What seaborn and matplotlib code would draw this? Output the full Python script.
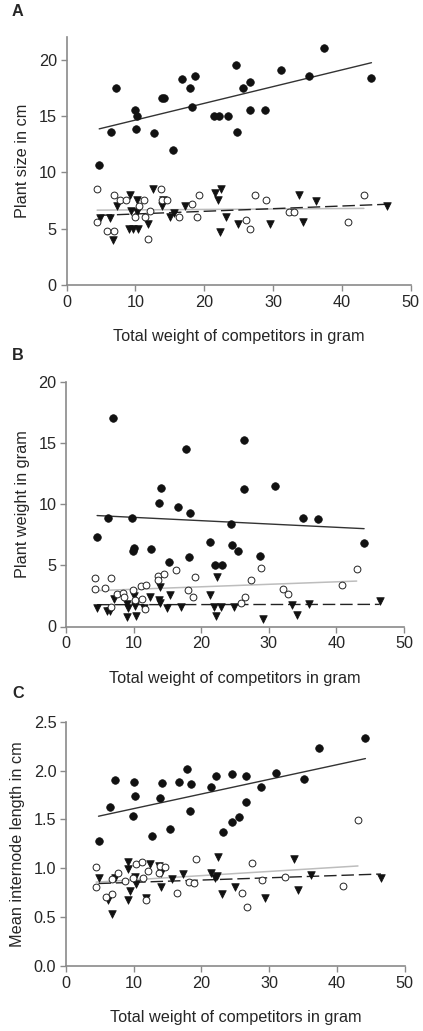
import numpy as np
import pandas as pd
import matplotlib
matplotlib.use("Agg")
import matplotlib.pyplot as plt
import seaborn as sns

# ---------------- data ----------------
# Panel A: plant size (cm)
xf_A = [4.75, 6.5, 7.2, 9.9, 10.3, 10.1, 12.7, 13.9, 14.2, 15.4, 16.8, 17.9, 18.6, 18.3,
        21.4, 22.1, 23.4, 24.6, 24.7, 25.6, 26.6, 26.6, 28.8, 31.1, 35.2, 37.4, 44.3]
yf_A = [10.65, 13.55, 17.5, 15.5, 15.0, 13.8, 13.5, 16.55, 16.55, 12.0, 18.25, 17.45, 18.55, 15.8,
        15.0, 15.0, 15.0, 19.55, 13.6, 17.5, 18.0, 15.5, 15.5, 19.05, 18.55, 21.05, 18.35]
xo_A = [4.45, 4.45, 6.85, 7.75, 8.6, 5.95, 6.85, 10.5, 10.0, 11.3, 11.4, 12.15, 11.9, 13.8,
        13.9, 14.6, 16.4, 18.3, 19.2, 19.0, 26.1, 26.7, 27.4, 29.0, 32.3, 33.0, 40.9, 43.2]
yo_A = [8.5, 5.55, 8.0, 7.5, 7.5, 4.8, 4.8, 7.0, 6.0, 7.5, 6.0, 6.55, 4.1, 8.5,
        7.5, 7.5, 6.0, 7.2, 8.0, 6.0, 5.8, 5.0, 8.0, 7.55, 6.5, 6.5, 5.55, 8.0]
xt_A = [4.8, 6.3, 6.8, 7.3, 9.2, 9.3, 9.15, 9.6, 10.4, 10.2, 10.3, 11.8, 12.5, 14.05, 13.85,
        15.1, 15.6, 17.2, 21.5, 22.4, 22.05, 23.1, 22.3, 24.95, 29.5, 33.8, 34.35, 36.3, 46.6]
yt_A = [5.95, 5.95, 3.95, 7.0, 7.95, 6.6, 4.95, 4.95, 4.95, 7.5, 6.45, 5.45, 8.5, 7.55, 7.05,
        6.0, 6.4, 7.0, 8.2, 8.5, 7.5, 6.0, 4.7, 5.45, 5.45, 7.95, 5.55, 7.45, 7.0]

# Panel B: plant weight (g)
xf_B = [4.6, 6.25, 7.0, 9.7, 10.1, 9.9, 12.5, 13.75, 14.05, 15.25, 16.6, 17.7, 18.4, 18.15,
        21.25, 22.0, 23.1, 24.45, 24.5, 25.4, 26.4, 26.4, 28.7, 30.9, 35.1, 37.3, 44.1]
yf_B = [7.3, 8.9, 17.0, 8.9, 6.45, 6.15, 6.3, 10.1, 11.35, 5.25, 9.8, 14.5, 9.3, 5.65,
        6.9, 5.05, 5.05, 8.4, 6.65, 6.15, 15.2, 11.25, 5.8, 11.45, 8.9, 8.8, 6.8]
xo_B = [4.3, 4.3, 5.8, 6.65, 7.55, 8.4, 8.6, 6.65, 9.85, 10.25, 11.1, 11.9, 11.25, 11.7, 13.65,
        13.55, 14.5, 16.3, 18.05, 18.8, 19.1, 25.9, 26.5, 27.4, 28.85, 32.15, 32.85, 40.8, 43.0]
yo_B = [4.0, 3.1, 3.15, 4.0, 2.65, 2.75, 2.4, 1.6, 3.0, 2.15, 3.3, 3.4, 2.25, 1.45, 4.15,
        3.8, 4.25, 4.65, 3.0, 2.45, 4.05, 1.95, 2.4, 3.8, 4.75, 3.1, 2.65, 3.35, 4.7]
xt_B = [4.6, 6.05, 6.55, 7.15, 9.0, 9.2, 9.05, 10.0, 10.2, 10.3, 11.6, 12.4, 13.95, 13.8, 13.9,
        14.95, 15.4, 17.0, 21.3, 22.4, 21.95, 22.9, 22.15, 24.8, 29.2, 33.5, 34.2, 36.0, 46.4]
yt_B = [1.55, 1.25, 1.25, 2.25, 1.8, 1.55, 0.75, 2.5, 1.7, 0.85, 1.5, 2.4, 3.2, 2.15, 1.95,
        1.5, 2.6, 1.6, 2.6, 4.05, 1.6, 1.6, 0.85, 1.6, 0.65, 1.75, 0.9, 1.85, 2.1]

# Panel C: mean internode length (cm)
xf_C = [4.8, 6.45, 7.2, 9.85, 10.1, 10.25, 12.65, 13.9, 14.2, 15.35, 16.75, 17.85, 18.5, 18.25,
        21.4, 22.1, 23.2, 24.55, 24.55, 25.5, 26.55, 26.6, 28.8, 31.0, 35.2, 37.4, 44.2]
yf_C = [1.275, 1.63, 1.90, 1.54, 1.885, 1.735, 1.33, 1.715, 1.87, 1.40, 1.88, 2.015, 1.86, 1.585,
        1.83, 1.94, 1.375, 1.965, 1.47, 1.52, 1.945, 1.68, 1.835, 1.98, 1.91, 2.23, 2.335]
xo_C = [4.45, 4.45, 5.95, 6.85, 6.8, 7.7, 8.7, 9.85, 10.4, 11.2, 11.4, 12.1, 11.8, 13.7,
        13.95, 14.6, 16.4, 18.2, 18.9, 19.25, 26.05, 26.65, 27.5, 28.95, 32.3, 40.9, 43.1]
yo_C = [1.015, 0.81, 0.71, 0.735, 0.895, 0.95, 0.87, 0.905, 1.04, 1.065, 0.905, 0.975, 0.68, 0.95,
        1.02, 1.01, 0.745, 0.86, 0.85, 1.10, 0.745, 0.605, 1.05, 0.88, 0.91, 0.82, 1.495]
xt_C = [4.8, 6.15, 6.8, 7.25, 9.2, 9.2, 9.15, 9.5, 10.25, 10.4, 11.75, 12.45, 13.75, 14.05,
        14.0, 15.6, 17.2, 21.4, 22.25, 22.0, 22.4, 23.0, 24.95, 29.35, 33.7, 34.3, 36.15, 46.5]
yt_C = [0.90, 0.68, 0.53, 0.905, 1.065, 0.99, 0.68, 0.77, 0.91, 0.84, 0.70, 1.045, 1.02, 0.95,
        0.81, 0.895, 0.94, 0.95, 0.925, 0.90, 1.12, 0.735, 0.81, 0.70, 1.10, 0.78, 0.93, 0.90]

panel_letters = ["A", "B", "C"]
y_labels = ["Plant size in cm", "Plant weight in gram", "Mean internode length in cm"]
x_label = "Total weight of competitors in gram"
x_ticks = [0, 10, 20, 30, 40, 50]
y_ticks_A = [0, 5, 10, 15, 20]
y_ticks_B = [0, 5, 10, 15, 20]
y_ticks_C = [0.0, 0.5, 1.0, 1.5, 2.0, 2.5]
y_tick_labels_C = ["0.0", "0.5", "1.0", "1.5", "2.0", "2.5"]

# ---------------- style ----------------
sns.set_style("ticks")
plt.rcParams['font.family'] = ['Liberation Sans', 'DejaVu Sans']

W, H = 423, 1031
fig = plt.figure(figsize=(W / 100, H / 100), dpi=100)

def px_axes(left, right, top, bottom):
    return fig.add_axes([left / W, 1 - bottom / H, (right - left) / W, (bottom - top) / H])

axA = px_axes(66.5, 410.7, 37.0, 285.0)
axB = px_axes(66.0, 404.0, 381.7, 626.5)
axC = px_axes(66.0, 404.7, 721.7, 966.0)

panels = [
    (axA, xf_A, yf_A, xo_A, yo_A, xt_A, yt_A, (0, 22), y_ticks_A, None),
    (axB, xf_B, yf_B, xo_B, yo_B, xt_B, yt_B, (0, 20), y_ticks_B, None),
    (axC, xf_C, yf_C, xo_C, yo_C, xt_C, yt_C, (0, 2.5), y_ticks_C, y_tick_labels_C),
]

FS = 11.7
spine_col = "#8a8a8a"

for i, (ax, xf, yf, xo, yo, xt, yt, ylim, yticks, ytl) in enumerate(panels):
    df_f = pd.DataFrame({"x": xf, "y": yf})
    df_o = pd.DataFrame({"x": xo, "y": yo})
    df_t = pd.DataFrame({"x": xt, "y": yt})

    # regression lines
    sns.regplot(data=df_o, x="x", y="y", ax=ax, scatter=False, ci=None, truncate=True,
                line_kws=dict(color="#bdbdbd", lw=1.1, zorder=2))
    sns.regplot(data=df_t, x="x", y="y", ax=ax, scatter=False, ci=None, truncate=True,
                line_kws=dict(color="#222222", lw=1.0, dashes=(9, 3.5), zorder=2))
    sns.regplot(data=df_f, x="x", y="y", ax=ax, scatter=False, ci=None, truncate=True,
                line_kws=dict(color="#333333", lw=1.0, zorder=2))

    # points
    sns.scatterplot(data=df_t, x="x", y="y", ax=ax, marker="v", s=30, color="#111111",
                    edgecolor="#111111", linewidth=0.5, zorder=3)
    sns.scatterplot(data=df_o, x="x", y="y", ax=ax, marker="o", s=24, facecolor="white",
                    edgecolor="#222222", linewidth=0.7, zorder=4)
    sns.scatterplot(data=df_f, x="x", y="y", ax=ax, marker="o", s=30, color="#111111",
                    edgecolor="#111111", linewidth=0.5, zorder=5)

    ax.set_xlim(0, 50)
    ax.set_ylim(*ylim)
    ax.set_xticks(x_ticks)
    ax.set_yticks(yticks)
    if ytl is not None:
        ax.set_yticklabels(ytl)
    ax.set_xlabel(x_label, fontsize=FS, labelpad=14)
    ax.set_ylabel(y_labels[i], fontsize=FS, labelpad=6)
    ax.tick_params(axis="both", labelsize=FS, length=4, width=1, color=spine_col,
                   direction="out", pad=3)
    for s in ["top", "right"]:
        ax.spines[s].set_visible(False)
    for s in ["left", "bottom"]:
        ax.spines[s].set_color(spine_col)
        ax.spines[s].set_linewidth(1.2)

label_pos = [11, 355, 694]
for letter, ypx in zip(panel_letters, label_pos):
    fig.text(12 / W, 1 - ypx / H, letter, fontsize=FS, fontweight="bold",
             ha="left", va="center")

fig.savefig("out.png", dpi=100)
